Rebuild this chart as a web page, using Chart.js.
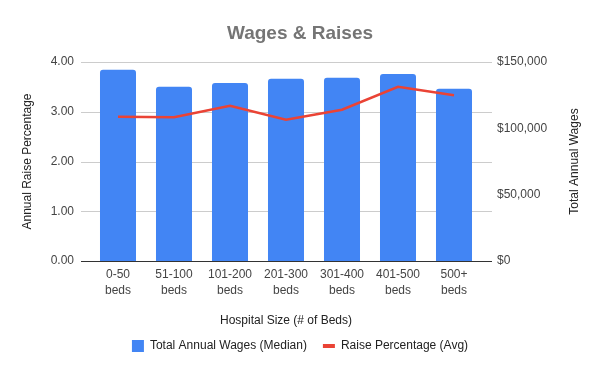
<!DOCTYPE html>
<html>
<head>
<meta charset="utf-8">
<script src="https://cdn.jsdelivr.net/npm/chart.js@4/dist/chart.umd.min.js"></script>
<style>
  html, body { margin: 0; padding: 0; background: #fff; }
  #chart { display: block; }
</style>
</head>
<body>
<canvas id="chart" width="600" height="371"></canvas>
<script>
// Datos
const categories = ['0-50', '51-100', '101-200', '201-300', '301-400', '401-500', '500+'];
const wagesMedian = [144200, 131400, 134100, 137400, 138200, 140900, 129900];
const raiseAvg = [2.90, 2.89, 3.12, 2.84, 3.04, 3.50, 3.33];
const raiseTicks = [0, 1, 2, 3, 4];
const wageTicks = [0, 50000, 100000, 150000];

const FONT = '"Liberation Sans", Arial, sans-serif';
const BLUE = '#4285F4';
const RED = '#EA4335';

// Líneas de cuadrícula un poco más anchas que el área del gráfico
const gridPlugin = {
    id: 'gridLines',
    beforeDatasetsDraw(chart) {
        const {ctx, chartArea} = chart;
        const y = chart.scales.y;
        ctx.save();
        ctx.strokeStyle = '#cccccc';
        ctx.lineWidth = 1;
        raiseTicks.forEach(v => {
            if (v === 0) return;
            const py = Math.round(y.getPixelForValue(v)) + 0.5;
            ctx.beginPath();
            ctx.moveTo(chartArea.left - 9, py);
            ctx.lineTo(chartArea.right + 10, py);
            ctx.stroke();
        });
        ctx.restore();
    },
    afterDatasetsDraw(chart) {
        const {ctx, chartArea} = chart;
        const py = Math.round(chart.scales.y.getPixelForValue(0)) + 0.5;
        ctx.save();
        ctx.strokeStyle = '#333333';
        ctx.lineWidth = 1;
        ctx.beginPath();
        ctx.moveTo(chartArea.left - 9, py);
        ctx.lineTo(chartArea.right + 10, py);
        ctx.stroke();
        ctx.restore();
    },
    afterDraw(chart) {
        // título del eje derecho, leído de abajo hacia arriba
        const {ctx, chartArea} = chart;
        const s = chart.scales.y1;
        ctx.save();
        ctx.translate(s.right - 25, (chartArea.top + chartArea.bottom) / 2);
        ctx.rotate(-Math.PI / 2);
        ctx.font = '12px ' + FONT;
        ctx.fillStyle = '#222222';
        ctx.textAlign = 'center';
        ctx.textBaseline = 'middle';
        ctx.fillText('Total Annual Wages', 0, 0);
        ctx.restore();
    }
};

const ctx = document.getElementById('chart').getContext('2d');

new Chart(ctx, {
    type: 'bar',
    data: {
        labels: categories.map(c => [c, 'beds']),
        datasets: [
            {
                type: 'bar',
                label: 'Total Annual Wages (Median)',
                data: wagesMedian,
                yAxisID: 'y1',
                backgroundColor: BLUE,
                borderWidth: 0,
                borderRadius: 3,
                barPercentage: 0.643,
                categoryPercentage: 1,
                order: 2
            },
            {
                type: 'line',
                label: 'Raise Percentage (Avg)',
                data: raiseAvg,
                yAxisID: 'y',
                borderColor: RED,
                backgroundColor: RED,
                borderWidth: 2.5,
                pointRadius: 0,
                tension: 0,
                order: 1
            }
        ]
    },
    options: {
        responsive: false,
        animation: false,
        layout: { padding: { bottom: 9 } },
        plugins: {
            title: {
                display: true,
                text: 'Wages & Raises',
                color: '#757575',
                font: { family: FONT, size: 19, weight: 'bold', lineHeight: 1.2 },
                padding: { top: 22, bottom: 17.2 }
            },
            legend: {
                position: 'bottom',
                labels: {
                    font: { family: FONT, size: 12 },
                    color: '#222222',
                    boxWidth: 12,
                    boxHeight: 12,
                    padding: 16,
                    sort: (a, b) => a.datasetIndex - b.datasetIndex,
                    generateLabels(chart) {
                        const items = Chart.defaults.plugins.legend.labels.generateLabels(chart);
                        items.forEach(it => {
                            if (it.datasetIndex === 1) {
                                it.pointStyle = 'line';
                                it.lineWidth = 4;
                                it.strokeStyle = RED;
                            } else {
                                it.pointStyle = 'rect';
                                it.lineWidth = 0;
                            }
                        });
                        return items;
                    },
                    usePointStyle: true,
                    pointStyleWidth: 12
                }
            },
            tooltip: { enabled: false }
        },
        scales: {
            x: {
                grid: { display: false, drawTicks: false },
                border: { display: false },
                ticks: {
                    color: '#444444',
                    font: { family: FONT, size: 12, lineHeight: 1.333 },
                    padding: 6,
                    maxRotation: 0,
                    autoSkip: false
                },
                title: {
                    display: true,
                    text: 'Hospital Size (# of Beds)',
                    color: '#222222',
                    font: { family: FONT, size: 12, lineHeight: 1 },
                    padding: { top: 0, bottom: -3 }
                },
                afterFit(scale) { scale.height = 63; }
            },
            y: {
                position: 'left',
                min: 0,
                max: 4,
                grid: { display: false, drawTicks: false },
                border: { display: false },
                ticks: {
                    stepSize: 1,
                    color: '#444444',
                    font: { family: FONT, size: 12 },
                    padding: 16,
                    callback: v => v.toFixed(2)
                },
                title: {
                    display: true,
                    text: 'Annual Raise Percentage',
                    color: '#222222',
                    font: { family: FONT, size: 12, lineHeight: 1.2 },
                    padding: { top: 20, bottom: 0 }
                },
                afterFit(scale) { scale.width = 90; }
            },
            y1: {
                position: 'right',
                min: 0,
                max: 150000,
                grid: { display: false, drawTicks: false },
                border: { display: false },
                afterBuildTicks(scale) { scale.ticks = wageTicks.map(v => ({ value: v })); },
                ticks: {
                    color: '#444444',
                    font: { family: FONT, size: 12 },
                    padding: 15,
                    callback: v => '$' + v.toLocaleString('en-US')
                },
                afterFit(scale) { scale.width = 118; }
            }
        }
    },
    plugins: [gridPlugin]
});
</script>
</body>
</html>
